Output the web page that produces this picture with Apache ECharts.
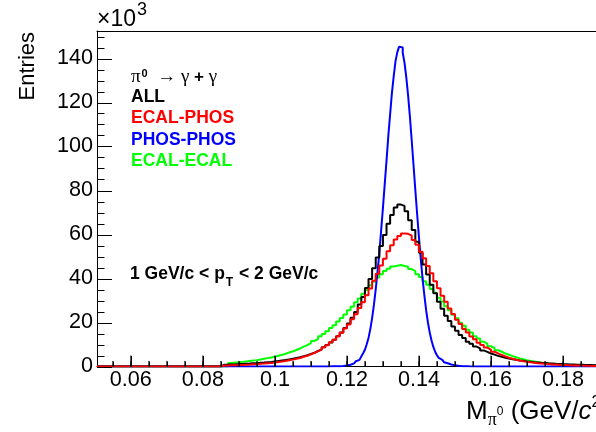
<!DOCTYPE html>
<html><head><meta charset="utf-8">
<script src="https://cdn.jsdelivr.net/npm/echarts@6/dist/echarts.min.js"></script>
<style>html,body{margin:0;padding:0;background:#fff}#c{width:596px;height:432px}</style>
</head><body><div id="c"></div>
<script>
// ---- axis ranges / ticks ----
const X_RANGE = [0.0506, 0.2];
const Y_RANGE = [0, 152.5];            // in units of 10^3 entries
const X_TICK_LABELS = [0.06, 0.08, 0.1, 0.12, 0.14, 0.16, 0.18];
const X_MAJOR_TICKS = [0.06, 0.08, 0.1, 0.12, 0.14, 0.16, 0.18, 0.2];
const X_MINOR_STEP = 0.005;
const Y_TICK_LABELS = [0, 20, 40, 60, 80, 100, 120, 140];
const Y_MINOR_STEP = 5;

// ---- histograms (entries / 10^3 per bin) ----
const BIN_W = 0.001;
const PHOS_BIN_W = 0.0005;

const ALL_START = 0.085;
const ALL = [
  0.83,0.88,0.95,0.99,1.08,1.14,1.24,1.31,1.43,1.52,
  1.66,1.77,1.94,2.08,2.28,2.46,2.70,2.93,3.22,3.51,
  3.87,4.23,4.68,5.15,5.72,6.31,7.06,7.81,8.76,9.72,
  10.9,12.2,13.8,15.4,17.5,19.5,22.2,24.8,28.2,31.6,
  35.7,39.8,44.7,49.5,54.8,59.8,64.9,68.9,72.3,73.6,
  73.0,70.6,66.5,62.0,56.7,51.7,46.4,41.8,37.2,33.3,
  29.4,26.3,23.1,20.7,18.2,16.3,14.3,12.9,11.3,10.3,
  9.08,8.22,7.30,6.64,5.92,5.40,4.83,4.44,3.98,3.67,
  3.31,3.06,2.77,2.58,2.33,2.18,1.97,1.85,1.69,1.59,
  1.45,1.37,1.26,1.19,1.09,1.04,0.95,0.91,0.84,0.80,0.74
];

const ECAL_PHOS_START = 0.085;
const ECAL_PHOS = [
  0.45,0.5,0.57,0.6,0.68,0.73,0.83,0.9,1.0,1.08,
  1.22,1.33,1.5,1.64,1.85,2.0,2.28,2.5,2.83,3.12,
  3.52,3.9,4.4,4.88,5.52,6.14,6.95,7.7,8.75,9.7,
  11.0,12.2,13.8,15.3,17.3,19.1,21.5,23.7,26.6,29.2,
  32.4,35.4,39.0,42.2,45.9,49.0,52.4,55.1,57.7,59.3,60.5,
  60.3,59.5,57.5,55.3,52.2,49.2,45.7,42.4,38.8,35.6,
  32.2,29.4,26.4,23.9,21.3,19.3,17.1,15.5,13.6,12.4,
  10.8,9.8,8.6,7.7,6.7,6.0,5.2,4.6,4.0,3.55,
  3.1,2.75,2.4,2.15,1.88,1.7,1.5,1.36,1.2,1.08,
  0.96,0.87,0.77,0.7,0.63,0.57,0.5,0.46,0.41,0.37,0.34
];

const PHOS_PHOS_START = 0.115;
const PHOS_PHOS = [
  0.05,0.06,0.07,0.09,0.12,0.16,0.2,0.26,0.33,0.45,
  0.6,0.8,1.05,1.4,1.8,2.4,3.0,3.7,4.6,6.0,
  7.6,10.1,13.0,17.0,22.0,28.0,35.1,43.0,51.6,61.8,
  72.0,82.9,93.6,104.8,114.6,124.4,132.0,138.8,142.9,145.4,
  145.0,142.6,138.0,131.3,123.0,113.4,102.6,91.5,80.2,69.3,
  58.8,49.0,40.2,32.4,25.6,20.0,15.4,11.8,8.9,6.7,
  5.1,3.9,3.0,2.4,1.9,1.5,1.15,0.9,0.7,0.52,
  0.4,0.3,0.22,0.17,0.13,0.1,0.08,0.06,0.05,0.04
];

const ECAL_ECAL_START = 0.087;
const ECAL_ECAL = [
  1.6,1.8,1.9,2.1,2.3,2.5,2.7,2.9,3.2,3.5,
  3.8,4.1,4.5,4.9,5.3,5.8,6.4,6.9,7.5,8.2,
  9.0,9.7,10.6,11.6,12.5,13.7,14.8,16.0,17.5,18.8,
  20.5,22.0,23.6,25.6,27.2,29.2,30.9,33.1,34.8,36.9,
  38.5,40.5,41.9,43.4,44.4,45.5,45.8,
  46.1,45.7,45.3,44.3,43.4,41.9,40.7,38.8,37.2,35.2,
  33.5,31.3,29.5,27.4,25.6,23.5,21.9,19.9,18.5,16.7,
  15.4,13.8,12.7,11.3,10.4,9.2,8.4,7.4,6.7,5.9,
  5.35,4.7,4.2,3.7,3.3,2.9,2.55,2.27,1.98,1.76,
  1.53,1.36,1.17,1.05,0.9,0.81,0.69,0.62,0.52
];

const NAMES = ['ALL', 'ECAL-PHOS', 'PHOS-PHOS', 'ECAL-ECAL'];
const COLORS = {'ALL':'#000000','ECAL-PHOS':'#ff0000','PHOS-PHOS':'#0000ff','ECAL-ECAL':'#00ff00'};

// ---- layout ----
const GRID = {left: 97, top: 31, right: -39, bottom: 65.5};
const H = 432;
const Y_PER_PX = (Y_RANGE[1] - Y_RANGE[0]) / (H - GRID.top - GRID.bottom);

function hist(start, width, values) {
  const pts = [[X_RANGE[0], 0]];
  values.forEach((v, i) => pts.push([start + i * width, v]));
  pts.push([start + values.length * width, 0]);
  pts.push([X_RANGE[1], 0]);
  return pts;
}
function stepValues(lo, hi, step) {
  const out = [];
  for (let i = Math.ceil(lo / step - 1e-9); i * step <= hi + 1e-12; i++) out.push(+(i * step).toFixed(6));
  return out;
}

const FONT = 'Liberation Sans';
const BLACK = '#000';
const chart = echarts.init(document.getElementById('c'), null, {renderer: 'canvas'});

function lineSeries(name, start, w, vals) {
  return {
    name, type: 'line', step: 'end', data: hist(start, w, vals),
    symbol: 'none', showSymbol: false, silent: true, clip: true,
    lineStyle: {color: COLORS[name], width: 2}
  };
}

// x-axis tick marks drawn as short line segments through the axis scales
function xTickData() {
  const d = [];
  const add = (v, lenPx) => { d.push([v, Y_RANGE[0]], [v, Y_RANGE[0] + lenPx * Y_PER_PX], [v, null]); };
  X_MAJOR_TICKS.forEach(v => add(v, 11));
  stepValues(X_RANGE[0], X_RANGE[1], X_MINOR_STEP).forEach(v => add(v, 5.5));
  return d;
}
const xTickSeries = {
  type: 'line', data: xTickData(), symbol: 'none', showSymbol: false, connectNulls: false,
  silent: true, clip: false, z: 6, lineStyle: {color: BLACK, width: 1}
};

const TEXT_GRAPHICS = [
  {type: 'text', x: 97, y: 20, silent: true,
   style: {text: '×10', fill: BLACK, font: '23px ' + FONT, textAlign: 'left', textVerticalAlign: 'middle'}},
  {type: 'text', x: 137, y: 10, silent: true,
   style: {text: '3', fill: BLACK, font: '18px ' + FONT, textAlign: 'left', textVerticalAlign: 'middle'}},
  {type: 'text', x: 28, y: 32, rotation: Math.PI / 2, silent: true,
   style: {text: 'Entries', fill: BLACK, font: '22px ' + FONT, textAlign: 'right', textVerticalAlign: 'middle'}},
  {type: 'text', x: 466, y: 412, silent: true,
   style: {
     text: '{a|M}{sub|π}{ss|0}{a| (GeV/}{it|c}{sup|2}{a|)}',
     textAlign: 'left', textVerticalAlign: 'middle',
     rich: {
       a: {fontFamily: FONT, fontSize: 26, lineHeight: 34, color: BLACK, verticalAlign: 'middle'},
       sub: {fontFamily: 'Liberation Serif', fontSize: 18, lineHeight: 18, color: BLACK, verticalAlign: 'bottom'},
       ss: {fontFamily: FONT, fontSize: 12, lineHeight: 12, color: BLACK, verticalAlign: 'middle'},
       it: {fontFamily: FONT, fontStyle: 'italic', fontSize: 26, lineHeight: 34, color: BLACK, verticalAlign: 'middle'},
       sup: {fontFamily: FONT, fontSize: 16, lineHeight: 16, color: BLACK, verticalAlign: 'top'}
     }
   }},
  {type: 'text', x: 131, y: 77, silent: true,
   style: {
     text: '{g|π}{s|0}{g|  → γ }{b|+}{g| γ}',
     textAlign: 'left', textVerticalAlign: 'middle',
     rich: {
       g: {fontFamily: 'Liberation Serif', fontSize: 19, lineHeight: 22, color: BLACK, verticalAlign: 'middle'},
       s: {fontFamily: FONT, fontWeight: 'bold', fontSize: 11, lineHeight: 11, color: BLACK, verticalAlign: 'top', padding: [2, 0, 0, 1]},
       b: {fontFamily: FONT, fontWeight: 'bold', fontSize: 17, lineHeight: 22, color: BLACK, verticalAlign: 'middle'}
     }
   }},
  {type: 'text', x: 131, y: 97, silent: true,
   style: {text: NAMES[0], fill: COLORS[NAMES[0]], font: 'bold 17.5px ' + FONT, textAlign: 'left', textVerticalAlign: 'middle'}},
  {type: 'text', x: 131, y: 118.5, silent: true,
   style: {text: NAMES[1], fill: COLORS[NAMES[1]], font: 'bold 17.5px ' + FONT, textAlign: 'left', textVerticalAlign: 'middle'}},
  {type: 'text', x: 131, y: 140, silent: true,
   style: {text: NAMES[2], fill: COLORS[NAMES[2]], font: 'bold 17.5px ' + FONT, textAlign: 'left', textVerticalAlign: 'middle'}},
  {type: 'text', x: 131, y: 161.5, silent: true,
   style: {text: NAMES[3], fill: COLORS[NAMES[3]], font: 'bold 17.5px ' + FONT, textAlign: 'left', textVerticalAlign: 'middle'}},
  {type: 'text', x: 130, y: 274, silent: true,
   style: {
     text: '{b|1 GeV/c < p}{t|T}{b| < 2 GeV/c}',
     textAlign: 'left', textVerticalAlign: 'middle',
     rich: {
       b: {fontFamily: FONT, fontWeight: 'bold', fontSize: 17.5, lineHeight: 30, color: BLACK, verticalAlign: 'middle'},
       t: {fontFamily: FONT, fontWeight: 'bold', fontSize: 12, lineHeight: 12, color: BLACK, verticalAlign: 'bottom', padding: [0, 1, 0, 1]}
     }
   }}
];

const option = {
  animation: false,
  backgroundColor: '#fff',
  grid: Object.assign({}, GRID, {containLabel: false, outerBoundsMode: 'none'}),
  xAxis: [
    {
      type: 'value', min: X_RANGE[0], max: X_RANGE[1], position: 'bottom',
      axisLine: {show: true, onZero: false, lineStyle: {color: BLACK, width: 1}},
      axisTick: {show: false},
      axisLabel: {show: true, customValues: X_TICK_LABELS, margin: 3, color: BLACK, fontSize: 21.6, fontFamily: FONT,
                  formatter: v => String(+(+v).toFixed(3))},
      splitLine: {show: false}
    },
    {
      type: 'value', min: X_RANGE[0], max: X_RANGE[1], position: 'top',
      axisLine: {show: true, onZero: false, lineStyle: {color: BLACK, width: 1}},
      axisTick: {show: false}, axisLabel: {show: false}, splitLine: {show: false}
    }
  ],
  yAxis: [
    {
      type: 'value', min: Y_RANGE[0], max: Y_RANGE[1], position: 'left',
      axisLine: {show: true, onZero: false, lineStyle: {color: BLACK, width: 1}},
      axisTick: {show: false},
      axisLabel: {show: true, customValues: Y_TICK_LABELS, margin: 4, color: BLACK, fontSize: 21.6, fontFamily: FONT},
      splitLine: {show: false}
    }
  ],
  series: [
    lineSeries('ECAL-ECAL', ECAL_ECAL_START, BIN_W, ECAL_ECAL),
    lineSeries('PHOS-PHOS', PHOS_PHOS_START, PHOS_BIN_W, PHOS_PHOS),
    lineSeries('ALL', ALL_START, BIN_W, ALL),
    lineSeries('ECAL-PHOS', ECAL_PHOS_START, BIN_W, ECAL_PHOS),
    xTickSeries
  ]
};
chart.setOption(option);

// tick marks, positioned through the chart's own axis scales
const finder = {xAxisIndex: 0, yAxisIndex: 0};
const tickGraphics = [];
function xTick(v, len) {
  const p = chart.convertToPixel(finder, [v, Y_RANGE[0]]);
  if (!p || !isFinite(p[0]) || !isFinite(p[1])) return;
  tickGraphics.push({type: 'rect', silent: true, z: 100,
    shape: {x: Math.round(p[0]), y: Math.round(p[1]) - len, width: 1, height: len}, style: {fill: BLACK}});
}
function yTick(v, len) {
  const p = chart.convertToPixel(finder, [X_RANGE[0], v]);
  if (!p || !isFinite(p[0]) || !isFinite(p[1])) return;
  tickGraphics.push({type: 'rect', silent: true, z: 100,
    shape: {x: Math.round(p[0]), y: Math.round(p[1]), width: len, height: 1}, style: {fill: BLACK}});
}
X_MAJOR_TICKS.forEach(v => xTick(v, 11));
stepValues(X_RANGE[0], X_RANGE[1], X_MINOR_STEP).forEach(v => xTick(v, 5.5));
Y_TICK_LABELS.forEach(v => yTick(v, 15));
stepValues(Y_RANGE[0], Y_RANGE[1], Y_MINOR_STEP).forEach(v => yTick(v, 7.5));

chart.setOption({graphic: TEXT_GRAPHICS.concat(tickGraphics)});
</script>
</body></html>
